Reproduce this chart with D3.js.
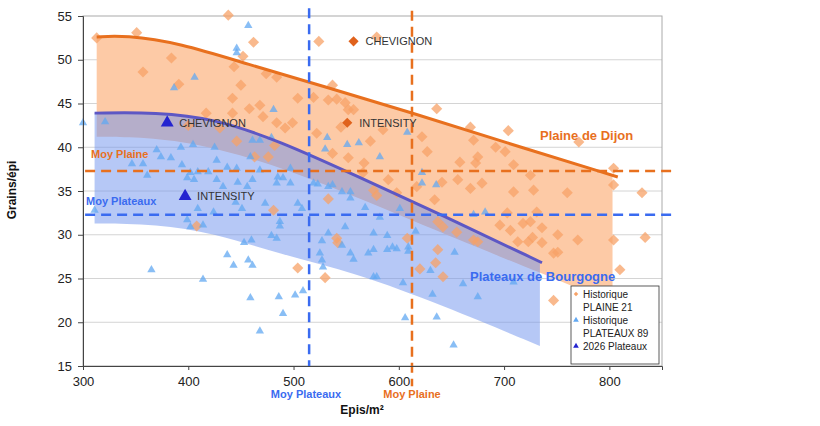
<!DOCTYPE html>
<html>
<head>
<meta charset="utf-8">
<script src="https://cdn.jsdelivr.net/npm/d3@7"></script>
<style>
  body { margin: 0; background: #fff; }
  svg text { font-family: "Liberation Sans", Arial, sans-serif; }
</style>
</head>
<body>
<div id="chart"></div>
<script>
// Historique PLAINE 21 (diamonds)
const plaineX = [313,351,438,462,384,357,391,443.5,452,450,442,474,484,458,468,417,442,471,484,430,446,482,463,476,400,
  524,579,504,519,533,537,541,552,557,549,636,499,492,545,522,573,585,622,627,537,552,567,658,590,641,656,566,
  668,704,671,692,701,771,675,673,709,725,804,804,679,668,709,728,760,831,703,731,696,706,718,725,736,751,770,804,834,
  713,723,727,736,747,751,810,747,671,675,576,579,533,481,598,617,634,637,655,642,541,542,608,637,620,635,642,504,530,408];
const plaineY = [52.5,53.1,55.1,52.0,50.2,48.6,47.2,49.2,50.4,47.1,45.6,48.4,48.0,44.4,44.8,43.9,43.9,43.5,42.8,42.2,40.7,40.2,38.9,38.9,42.5,
  52.1,52.6,45.6,45.7,45.4,47.1,45.5,44.3,44.3,45.1,44.4,42.8,42.2,42.3,41.6,40.7,42.0,41.2,39.5,39.3,38.8,38.2,38.3,36.3,36.0,36.3,37.1,
  42.3,41.9,40.8,40.0,39.5,40.6,38.9,38.2,38.0,36.8,37.6,35.7,35.9,35.3,34.9,35.1,34.8,34.8,32.5,32.6,31.1,30.5,31.3,31.5,30.8,30.0,29.4,29.4,29.7,
  29.2,29.2,29.7,29.1,27.9,28.0,26.0,22.5,29.4,29.2,35.1,34.5,34.1,32.8,34.8,35.5,34.0,31.5,30.3,30.9,29.6,29.1,29.6,28.3,26.1,26.8,25.2,26.2,25.1,31.0];

// Historique PLATEAUX 89 (triangles)
const plateauxX = [300,321,406,386.5,457,446,446,481,468,461,479,404.5,425,393,370,459,374,383.5,346.5,357,394,427,446,361,402,409,419,437,468,
  399,405.5,427,447,461,433,456,484,311,409,424,451,399,402,414,473,460,453,479,484,437,443,457,461,365,414,459,468,486,445,490,501.5,
  497,523,533,537,546,554,554,504,508,487,487,568,582,601,549,533,527,576,589,616,546,594,598,589,571,576,554,557,525,527,528,609,609,
  576,579,604,630,653,661,632,509,606,636,652,671,682,675,709,532,551,562,608,582,530,497,485,490,519,622,622,635.5];
const plateauxY = [42.8,42.9,48.0,46.8,53.9,50.8,51.3,44.3,40.8,40.8,41.1,40.3,40.0,40.0,39.7,38.9,38.9,38.8,38.1,38.1,38.0,38.5,37.6,36.8,37.1,37.2,37.2,37.7,37.4,
  36.5,36.3,36.3,36.0,36.3,35.5,35.5,35.9,32.8,33.0,32.6,33.0,31.7,30.9,31.1,33.6,29.4,29.1,29.9,29.6,27.7,26.5,27.1,26.5,26.0,24.9,22.8,19.0,22.9,33.7,21.0,23.1,
  35.9,35.8,35.5,35.7,34.9,34.9,34.2,33.6,33.0,31.5,31.0,33.1,32.0,33.0,30.9,30.2,29.3,30.2,29.9,30.4,28.8,28.6,28.4,28.3,27.9,28.3,27.9,27.2,27.9,27.1,26.3,28.6,28.1,
  25.2,25.2,24.5,25.9,28.0,24.4,23.2,23.6,20.5,20.6,17.4,32.3,32.6,22.9,24.6,41.1,40.3,40.5,41.7,38.9,39.8,37.6,36.6,36.5,35.9,37.1,35.9,35.7];

// 2026 varieties
const plaineVarietes = [{ name: "CHEVIGNON", x: 557, y: 52.1 }, { name: "INTENSITY", x: 551, y: 42.8 }];
const plateauxVarietes = [{ name: "CHEVIGNON", x: 380, y: 42.8 }, { name: "INTENSITY", x: 397, y: 34.4 }];

// trend lines and bands
const plaineTrendX = [313,340,392,456,530,611,700,808];
const plaineTrendY = [52.6,52.8,51.9,49.5,46.9,44.0,40.6,36.6];
const plaineBandX = [313,340,392,456,530,611,700,760,803];
const plaineBandHigh = [52.6,52.8,51.9,49.5,46.9,44.0,40.6,38.5,36.9];
const plaineBandLow = [41.2,41.2,40.8,39.0,35.8,31.7,27.3,24.4,22.2];

const plateauxTrendX = [311,370,424,487,560,640,736];
const plateauxTrendY = [43.9,44.0,43.3,40.7,36.7,32.3,26.8];
const plateauxBandX = [311,370,424,487,560,640,734];
const plateauxBandHigh = [43.9,44.0,43.3,40.7,36.7,32.3,26.9];
const plateauxBandLow = [31.3,31.2,30.2,27.8,25.6,22.0,17.3];

const moyPlaine = { epis: 612.5, grains: 37.3 };
const moyPlateaux = { epis: 514.8, grains: 32.3 };

const yTicks = [15,20,25,30,35,40,45,50,55];
const xTicks = [300,400,500,600,700,800];

const orange = "#E8701E", blue = "#3A6BF0";

const svg = d3.select("#chart").append("svg")
    .attr("width", 820)
    .attr("height", 426);

const x = d3.scaleLinear().domain([300, 850]).range([83, 662]);
const y = d3.scaleLinear().domain([15, 55]).range([366, 16]);

// grid
svg.append("g")
    .selectAll("line")
    .data(yTicks.slice(1, -1))
    .enter().append("line")
    .attr("x1", x(300)).attr("x2", x(850))
    .attr("y1", d => y(d)).attr("y2", d => y(d))
    .attr("stroke", "#d4d4d4");

svg.append("rect")
    .attr("x", x(300)).attr("y", y(55))
    .attr("width", x(850) - x(300)).attr("height", y(15) - y(55))
    .attr("fill", "none").attr("stroke", "#aaa");

// bands
const band = d3.area().curve(d3.curveBasis);
svg.append("path")
    .datum(plaineBandX.map((v, i) => [v, plaineBandLow[i], plaineBandHigh[i]]))
    .attr("fill", "#FDCAA6")
    .attr("d", band.x(d => x(d[0])).y0(d => y(d[1])).y1(d => y(d[2])));
svg.append("path")
    .datum(plateauxBandX.map((v, i) => [v, plateauxBandLow[i], plateauxBandHigh[i]]))
    .attr("fill", "#6d92ee").attr("fill-opacity", 0.5)
    .attr("d", band.x(d => x(d[0])).y0(d => y(d[1])).y1(d => y(d[2])));

// scatter
const diamond = d3.symbol().type(d3.symbolSquare).size(62);
const tri = d3.symbol().type(d3.symbolTriangle).size(30);

svg.append("g")
    .selectAll("path")
    .data(plaineX.map((v, i) => [v, plaineY[i]]))
    .enter().append("path")
    .attr("d", diamond)
    .attr("transform", d => `translate(${x(d[0])},${y(d[1])}) rotate(45)`)
    .attr("fill", "#F7A267").attr("fill-opacity", 0.75);

svg.append("g")
    .selectAll("path")
    .data(plateauxX.map((v, i) => [v, plateauxY[i]]))
    .enter().append("path")
    .attr("d", tri)
    .attr("transform", d => `translate(${x(d[0])},${y(d[1])})`)
    .attr("fill", "#62A8F2").attr("fill-opacity", 0.75);

// trend lines
const line = d3.line().curve(d3.curveBasis);
svg.append("path")
    .datum(plaineTrendX.map((v, i) => [v, plaineTrendY[i]]))
    .attr("fill", "none").attr("stroke", orange).attr("stroke-width", 3)
    .attr("d", line.x(d => x(d[0])).y(d => y(d[1])));
svg.append("path")
    .datum(plateauxTrendX.map((v, i) => [v, plateauxTrendY[i]]))
    .attr("fill", "none").attr("stroke", "#5D57C4").attr("stroke-width", 3)
    .attr("d", line.x(d => x(d[0])).y(d => y(d[1])));

// averages
const dashes = [
    { x1: 302, x2: 862, y1: moyPlaine.grains, y2: moyPlaine.grains, c: orange },
    { x1: 302, x2: 862, y1: moyPlateaux.grains, y2: moyPlateaux.grains, c: blue },
    { x1: moyPlateaux.epis, x2: moyPlateaux.epis, y1: 55.9, y2: 15, c: blue },
    { x1: moyPlaine.epis, x2: moyPlaine.epis, y1: 55.6, y2: 12.7, c: orange }
];
svg.append("g")
    .selectAll("line")
    .data(dashes)
    .enter().append("line")
    .attr("x1", d => x(d.x1)).attr("x2", d => x(d.x2))
    .attr("y1", d => y(d.y1)).attr("y2", d => y(d.y2))
    .attr("stroke", d => d.c).attr("stroke-width", 2.5)
    .attr("stroke-dasharray", "10,6");

// axes
const yAxis = svg.append("g")
    .attr("transform", `translate(${x(300)},0)`)
    .call(d3.axisLeft(y).tickValues(yTicks).tickSize(5).tickPadding(6));
const xAxis = svg.append("g")
    .attr("transform", `translate(0,${y(15)})`)
    .call(d3.axisBottom(x).tickValues(xTicks).tickSize(4).tickPadding(7));
[yAxis, xAxis].forEach(a => {
    a.select(".domain").attr("stroke", "#444");
    a.selectAll(".tick line").attr("stroke", "#444");
    a.selectAll("text").attr("font-size", 13).attr("fill", "#222")
        .attr("font-family", "'Liberation Sans', Arial, sans-serif");
});

// highlighted varieties
svg.append("g")
    .selectAll("path")
    .data(plaineVarietes)
    .enter().append("path")
    .attr("d", d3.symbol().type(d3.symbolSquare).size(52))
    .attr("transform", d => `translate(${x(d.x)},${y(d.y)}) rotate(45)`)
    .attr("fill", "#E0621C");
svg.append("g")
    .selectAll("path")
    .data(plateauxVarietes)
    .enter().append("path")
    .attr("d", d3.symbol().type(d3.symbolTriangle).size(72))
    .attr("transform", d => `translate(${x(d.x)},${y(d.y)})`)
    .attr("fill", "#2424D0");
svg.append("g")
    .selectAll("text")
    .data(plaineVarietes.concat(plateauxVarietes))
    .enter().append("text")
    .attr("x", d => x(d.x) + 12)
    .attr("y", d => y(d.y) + 4)
    .attr("font-size", 11).attr("fill", "#333")
    .text(d => d.name);

// labels
const labels = [
    { t: "Moy Plaine", x: 91, y: 158, c: orange, s: 11, a: "start" },
    { t: "Moy Plateaux", x: 86, y: 205, c: blue, s: 11, a: "start" },
    { t: "Moy Plateaux", x: 306, y: 398, c: blue, s: 11, a: "middle" },
    { t: "Moy Plaine", x: 412, y: 398, c: orange, s: 11, a: "middle" },
    { t: "Epis/m²", x: 362, y: 414, c: "#111", s: 12, a: "middle" },
    { t: "Plaine de Dijon", x: 540, y: 140, c: orange, s: 13, a: "start" },
    { t: "Plateaux de Bourgogne", x: 470, y: 281, c: blue, s: 13, a: "start" }
];
svg.append("g")
    .selectAll("text")
    .data(labels)
    .enter().append("text")
    .attr("x", d => d.x).attr("y", d => d.y)
    .attr("fill", d => d.c).attr("font-size", d => d.s)
    .attr("font-weight", "bold").attr("text-anchor", d => d.a)
    .text(d => d.t);

svg.append("text")
    .attr("transform", "translate(16,190) rotate(-90)")
    .attr("text-anchor", "middle")
    .attr("font-size", 12).attr("font-weight", "bold").attr("fill", "#111")
    .text("Grains/épi");

// legend
const legend = svg.append("g").attr("transform", "translate(571,286)");
legend.append("rect")
    .attr("width", 88).attr("height", 78)
    .attr("fill", "#fff").attr("stroke", "#333").attr("stroke-width", 0.8);
const legendItems = [
    { lines: ["Historique", "PLAINE 21"], sym: d3.symbolSquare, c: "#F7A267", rot: 45, sz: 10 },
    { lines: ["Historique", "PLATEAUX 89"], sym: d3.symbolTriangle, c: "#62A8F2", rot: 0, sz: 14 },
    { lines: ["2026 Plateaux"], sym: d3.symbolTriangle, c: "#2424D0", rot: 0, sz: 14 }
];
legendItems.forEach((it, i) => {
    const gy = 8 + i * 26;
    legend.append("path")
        .attr("d", d3.symbol().type(it.sym).size(it.sz))
        .attr("transform", `translate(5,${gy}) rotate(${it.rot})`)
        .attr("fill", it.c);
    it.lines.forEach((l, j) => {
        legend.append("text")
            .attr("x", 12).attr("y", gy + 3.5 + j * 13)
            .attr("font-size", 10).attr("fill", "#222")
            .text(l);
    });
});
</script>
</body>
</html>
